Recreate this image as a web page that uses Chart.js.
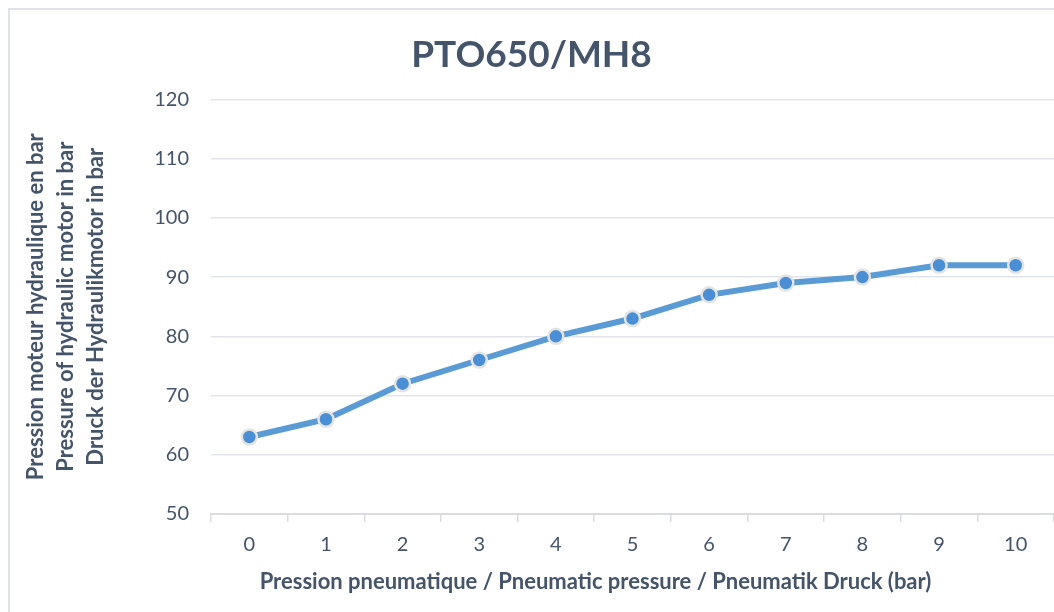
<!DOCTYPE html>
<html>
<head>
<meta charset="utf-8">
<script src="https://cdn.jsdelivr.net/npm/chart.js"></script>
<style>
  html, body { margin: 0; padding: 0; background: #fff; overflow: hidden; }
  #frame { position: absolute; left: 8px; top: 8px; width: 2000px; height: 2000px; border: 2px solid #dfe3e8; }
  #wrap { position: absolute; left: 0; top: 0; width: 1064px; height: 612px; }
</style>
</head>
<body>
<div id="frame"></div>
<div id="wrap"><canvas id="myChart"></canvas></div>
<script>
const pressureBar = ['0', '1', '2', '3', '4', '5', '6', '7', '8', '9', '10'];
const motorPressure = [63, 66, 72, 76, 80, 83, 87, 89, 90, 92, 92];
const yTitle = ['Pression moteur hydraulique en bar', 'Pressure of hydraulic motor in bar', 'Druck der Hydraulikmotor in bar'];
const xTitle = 'Pression pneumatique / Pneumatic pressure / Pneumatik Druck (bar)';
const chartTitle = 'PTO650/MH8';

const textColor = '#44546a';
const font = 'Lato, "Open Sans", sans-serif';

// x axis title sits left of the plot centre in the original (plot runs off the right edge)
const xTitlePlugin = {
  id: 'xTitle',
  afterDraw(chart) {
    const c = chart.ctx;
    const area = chart.chartArea;
    c.save();
    c.font = 'bold 22px ' + font;
    c.fillStyle = textColor;
    c.textAlign = 'center';
    c.textBaseline = 'middle';
    c.fillText(xTitle, (area.left + area.right) / 2 - 37, area.bottom + 68);
    c.restore();
  }
};

const ctx = document.getElementById('myChart');
const myChart = new Chart(ctx, {
  type: 'line',
  data: {
    labels: pressureBar,
    datasets: [{
      label: chartTitle,
      data: motorPressure,
      borderColor: '#5b9bd5',
      borderWidth: 6,
      pointRadius: 7.5,
      pointBorderWidth: 2.5,
      pointBackgroundColor: '#4a8fd6',
      pointBorderColor: '#e4e4e4',
      tension: 0
    }]
  },
  plugins: [xTitlePlugin],
  options: {
    responsive: true,
    maintainAspectRatio: false,
    animation: false,
    layout: { padding: { left: 0, right: 1, top: 0, bottom: 0 } },
    plugins: {
      legend: { display: false },
      tooltip: { enabled: false },
      title: {
        display: true,
        text: chartTitle,
        color: textColor,
        font: { family: font, size: 37, weight: 'bold', lineHeight: 1.2 },
        padding: { top: 33, bottom: 22 }
      }
    },
    scales: {
      x: {
        offset: true,
        grid: { offset: true, drawOnChartArea: false, color: '#d9dde3', tickLength: 8, lineWidth: 1.5 },
        border: { color: '#d9dde3', width: 2 },
        ticks: { color: textColor, font: { family: font, size: 20 }, padding: 11, maxRotation: 0 },
        title: { display: false },
        afterFit(s) { s.height = 98; }
      },
      y: {
        min: 50,
        max: 120,
        ticks: { stepSize: 10, color: textColor, font: { family: font, size: 20 }, padding: 22 },
        grid: { color: '#e1e5ea', lineWidth: 1.5, drawTicks: false },
        border: { display: false },
        title: {
          display: true,
          text: yTitle,
          color: textColor,
          font: { family: font, size: 22, weight: 'bold', lineHeight: 1.36 },
          padding: { top: 21, bottom: 0 }
        },
        afterFit(s) { s.width = 211; }
      }
    }
  }
});
</script>
</body>
</html>
